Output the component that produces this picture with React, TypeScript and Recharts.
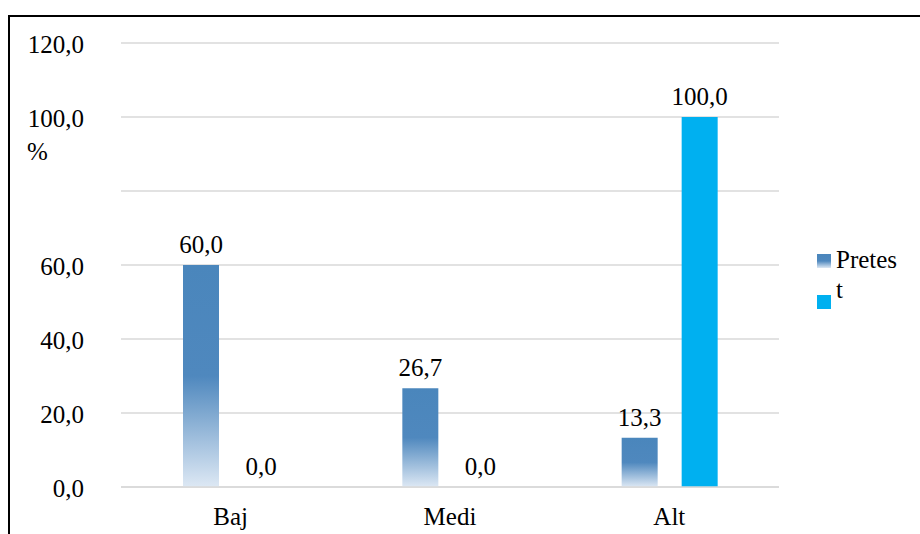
import { BarChart, Bar, XAxis, YAxis, CartesianGrid } from 'recharts';

const categories = ['Baj', 'Medi', 'Alt'];
const pretest = [60.0, 26.7, 13.3];
const postest = [0.0, 0.0, 100.0];
const yTicks = [0, 20, 40, 60, 80, 100, 120];
const legendLabels = ['Pretes', 't'];

const data = categories.map((name, i) => ({ name, pretest: pretest[i], postest: postest[i] }));

const FONT = '"Liberation Serif", "Times New Roman", serif';
const fmt = (v: number) => v.toFixed(1).replace('.', ',');
const textStyle = { fontFamily: FONT, fontSize: 25, fill: '#000' };

function YTick(props: any) {
  const { y, payload } = props;
  if (payload.value === 80) return null;
  return (
    <g>
      <text x={84} y={y + 10} textAnchor="end" style={textStyle}>
        {fmt(payload.value)}
      </text>
      {payload.value === 100 && (
        <text x={27} y={y + 43} textAnchor="start" style={textStyle}>
          %
        </text>
      )}
    </g>
  );
}

function XTick(props: any) {
  const { x, y, payload } = props;
  return (
    <text x={x} y={y + 30} textAnchor="middle" style={textStyle}>
      {payload.value}
    </text>
  );
}

function BarLabel(props: any) {
  const { x, y, width, value } = props;
  return (
    <text x={x + width / 2} y={y - 12} textAnchor="middle" style={textStyle}>
      {fmt(Number(value))}
    </text>
  );
}

function LegendBox() {
  return (
    <div style={{ position: 'absolute', left: 815, top: 246, width: 100, height: 80, fontFamily: FONT, fontSize: 25, color: '#000' }}>
      <div style={{ position: 'absolute', left: 2, top: 8, width: 14, height: 14, background: 'linear-gradient(#4a86bc, #4f88be 50%, #dde8f4)' }} />
      <div style={{ position: 'absolute', left: 21, top: 0, lineHeight: '28px' }}>{legendLabels[0]}</div>
      <div style={{ position: 'absolute', left: 2, top: 49, width: 14, height: 14, background: '#00b0f0' }} />
      <div style={{ position: 'absolute', left: 21, top: 30, lineHeight: '28px' }}>{legendLabels[1]}</div>
    </div>
  );
}

export default function App() {
  return (
    <div style={{ position: 'absolute', left: 0, top: 0, width: 920, height: 534, overflow: 'hidden', background: '#fff', fontFamily: FONT }}>
      <div style={{ position: 'absolute', left: 8, top: 15, width: 1000, height: 1000, border: '2px solid #000' }} />
      <div style={{ position: 'absolute', left: 0, top: 0 }}>
        <BarChart width={920} height={534} data={data} barGap={24} barSize={36}
          margin={{ top: 43, right: 141, left: 0, bottom: 0 }}>
          <defs>
            <linearGradient id="preGrad" x1="0" y1="0" x2="0" y2="1">
              <stop offset="0" stopColor="#4a86bc" />
              <stop offset="0.5" stopColor="#4f88be" />
              <stop offset="1" stopColor="#dde8f4" />
            </linearGradient>
          </defs>
          <CartesianGrid vertical={false} stroke="#d9d9d9" strokeWidth={1.5} />
          <XAxis dataKey="name" height={47} tickLine={false} axisLine={{ stroke: '#d9d9d9', strokeWidth: 1.5 }} tick={<XTick />} />
          <YAxis width={121} domain={[0, 120]} ticks={yTicks} interval={0} tickLine={false} axisLine={false} tick={<YTick />} />
          <Bar dataKey="pretest" name="Pretest" fill="url(#preGrad)" isAnimationActive={false} label={<BarLabel />} />
          <Bar dataKey="postest" name="Postest" fill="#00b0f0" minPointSize={0.01} isAnimationActive={false} label={<BarLabel />} />
        </BarChart>
      </div>
      <LegendBox />
    </div>
  );
}
